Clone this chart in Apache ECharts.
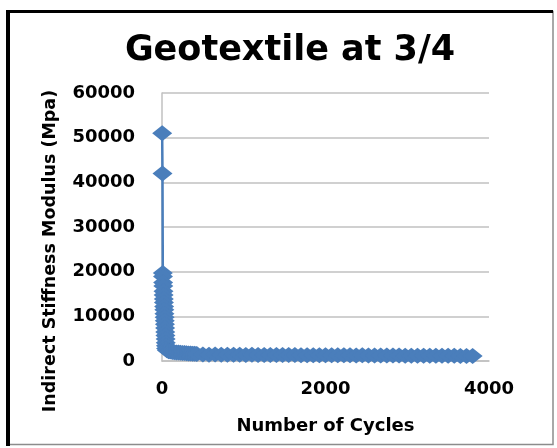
<!DOCTYPE html>
<html>
<head>
<meta charset="utf-8">
<script src="https://cdn.jsdelivr.net/npm/echarts@6/dist/echarts.min.js"></script>
<style>
  html, body { margin: 0; padding: 0; background: #fff; }
  #chart { width: 557px; height: 448px; }
</style>
</head>
<body>
<div id="chart"></div>
<script>
// number of load cycles (x) and indirect stiffness modulus in Mpa (y)
const cycles = [
  2, 6, 10, 12, 14, 16, 18, 20, 22, 24, 26, 28, 30, 32, 34, 36, 38, 40, 42, 44, 46, 48, 50,
  60, 80, 100, 125, 150, 175, 200, 225, 250, 275, 300, 325, 350, 375, 400, 425,
  500, 575, 650, 725, 800, 875, 950, 1025, 1100, 1175, 1250, 1325, 1400, 1475, 1550,
  1625, 1700, 1775, 1850, 1925, 2000, 2075, 2150, 2225, 2300, 2375, 2450, 2525, 2600,
  2675, 2750, 2825, 2900, 2975, 3050, 3125, 3200, 3275, 3350, 3425, 3500, 3575, 3650,
  3725, 3800
]
const modulus = [
  51000, 42000, 19700, 18900, 17600, 16800, 15600, 14800, 13900, 13100, 12200, 11500, 10600,
  9800, 9000, 8200, 7400, 6500, 5700, 4900, 4100, 3400, 2800,
  2400, 2200, 2100, 2000, 1950, 1900, 1900, 1850, 1800, 1800, 1750, 1700, 1700, 1650, 1600, 1550,
  1450, 1420, 1440, 1400, 1410, 1380, 1390, 1370, 1380, 1350, 1360, 1340, 1350, 1330, 1320,
  1330, 1310, 1300, 1310, 1290, 1300, 1280, 1270, 1280, 1260, 1250, 1260, 1240, 1230,
  1240, 1220, 1210, 1220, 1200, 1190, 1200, 1180, 1170, 1180, 1160, 1150, 1160, 1140,
  1130, 1120
]
const xTicks = { min: 0, max: 4000, interval: 2000 }
const yTicks = { min: 0, max: 60000, interval: 10000 }

const points = cycles.map((c, i) => [c, modulus[i]])
const font = 'DejaVu Sans'
const plain = v => String(v)

const chart = echarts.init(document.getElementById('chart'))
chart.setOption({
  animation: false,
  title: {
    text: 'Geotextile at 3/4',
    left: 285,
    top: 28,
    textAlign: 'center',
    textStyle: { fontFamily: font, fontWeight: 'bold', fontSize: 35, color: '#000' }
  },
  grid: { left: 162, right: 68, top: 93, bottom: 87 },
  xAxis: {
    type: 'value',
    min: xTicks.min,
    max: xTicks.max,
    interval: xTicks.interval,
    name: 'Number of Cycles',
    nameLocation: 'middle',
    nameGap: 56,
    nameTextStyle: { fontFamily: font, fontWeight: 'bold', fontSize: 18, color: '#000' },
    axisLine: { show: true, lineStyle: { color: '#c0c0c0', width: 1.5 } },
    axisTick: { show: false },
    axisLabel: { margin: 19, formatter: plain, fontFamily: font, fontWeight: 'bold', fontSize: 18, color: '#000' },
    splitLine: { show: false }
  },
  yAxis: {
    type: 'value',
    min: yTicks.min,
    max: yTicks.max,
    interval: yTicks.interval,
    axisLine: { show: true, lineStyle: { color: '#c0c0c0', width: 1.5 } },
    axisTick: { show: false },
    axisLabel: { margin: 27, formatter: plain, fontFamily: font, fontWeight: 'bold', fontSize: 18, color: '#000' },
    splitLine: { show: true, lineStyle: { color: '#c0c0c0', width: 1.5 } }
  },
  graphic: [
    // chart frame: thick dark left/top, thin grey right/bottom
    { type: 'rect', shape: { x: 8, y: 11.5, width: 545, height: 433 }, style: { fill: 'none', stroke: '#8c8c8c', lineWidth: 1.5 } },
    { type: 'line', shape: { x1: 8, y1: 10, x2: 8, y2: 446 }, style: { stroke: '#000', lineWidth: 4 } },
    { type: 'line', shape: { x1: 6, y1: 11.5, x2: 553, y2: 11.5 }, style: { stroke: '#000', lineWidth: 3 } },
    {
      type: 'text',
      x: 50,
      y: 251,
      rotation: Math.PI / 2,
      style: {
        text: 'Indirect Stiffness Modulus (Mpa)',
        fontFamily: font,
        fontWeight: 'bold',
        fontSize: 17.5,
        fill: '#000',
        align: 'center',
        verticalAlign: 'middle'
      }
    }
  ],
  series: [{
    type: 'line',
    data: points,
    symbol: 'diamond',
    symbolSize: [20, 16],
    showAllSymbol: true,
    lineStyle: { color: '#4a7ebb', width: 2.5 },
    itemStyle: { color: '#4a7ebb' }
  }]
})
</script>
</body>
</html>
